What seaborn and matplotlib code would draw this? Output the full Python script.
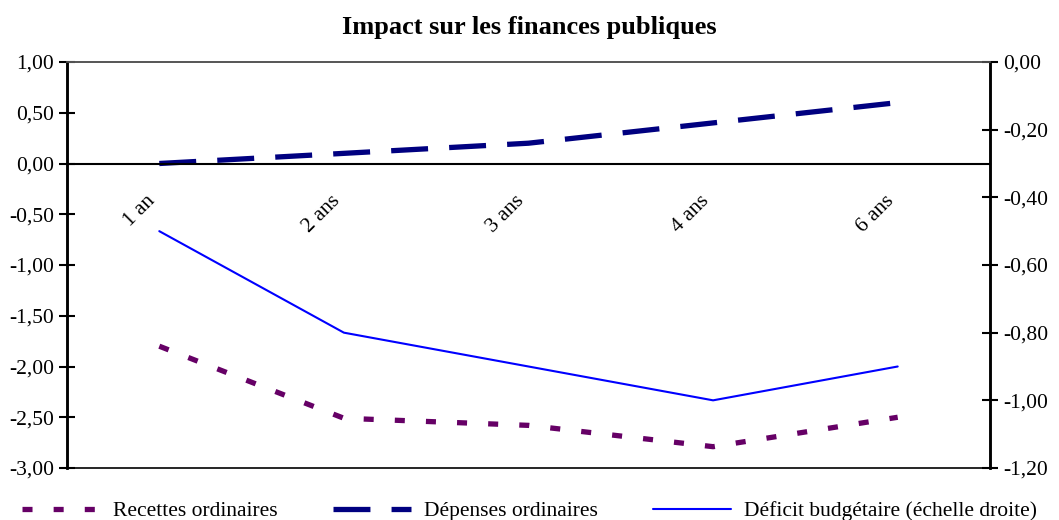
import numpy as np
import pandas as pd
import seaborn as sns
from matplotlib import pyplot as plt
from matplotlib.ticker import FuncFormatter, FixedLocator

# data
periodes = ['1 an', '2 ans', '3 ans', '4 ans', '6 ans']
recettes = [-1.80, -2.51, -2.58, -2.79, -2.50]
depenses = [0.00, 0.10, 0.20, 0.40, 0.60]
deficit = [-0.50, -0.80, -0.90, -1.00, -0.90]  # right axis

left_ticks = [1.0, 0.5, 0.0, -0.5, -1.0, -1.5, -2.0, -2.5, -3.0]
right_ticks = [0.0, -0.2, -0.4, -0.6, -0.8, -1.0, -1.2]

df = pd.DataFrame({'pos': np.arange(len(periodes)), 'periode': periodes,
                   'recettes': recettes, 'depenses': depenses,
                   'deficit': deficit})

sns.set_style('white')
plt.rcParams['font.family'] = ['Liberation Serif', 'DejaVu Serif']
plt.rcParams['font.size'] = 15.5
plt.rcParams['text.color'] = 'black'
plt.rcParams['xtick.color'] = 'black'
plt.rcParams['ytick.color'] = 'black'

fig = plt.figure(figsize=(10.59, 5.20), dpi=100)
ax = fig.add_axes([67 / 1059, 52 / 520, 923 / 1059, 406 / 520])
ax2 = ax.twinx()

sns.lineplot(data=df, x='pos', y='recettes', ax=ax, color='#660066',
             lw=3.8, linestyle=(0, (1.9, 4.0)), dash_capstyle='butt',
             label='Recettes ordinaires', legend=False)
sns.lineplot(data=df, x='pos', y='depenses', ax=ax, color='#000080',
             lw=3.8, linestyle=(0, (7.0, 4.0)), dash_capstyle='butt',
             label='Dépenses ordinaires', legend=False)
sns.lineplot(data=df, x='pos', y='deficit', ax=ax2, color='#0000FF',
             lw=1.5, label='Déficit budgétaire (échelle droite)', legend=False)

ax.set_xlim(-0.5, len(periodes) - 0.5)
ax.set_ylim(-3.0, 1.0)
ax2.set_ylim(-1.2, 0.0)

comma = lambda fmt: FuncFormatter(lambda v, p: fmt.format(v).replace('.', ','))
ax.yaxis.set_major_locator(FixedLocator(left_ticks))
ax.yaxis.set_major_formatter(comma('{:.2f}'))
ax2.yaxis.set_major_locator(FixedLocator(right_ticks))
ax2.yaxis.set_major_formatter(comma('{:.2f}'))

# category axis sits on the zero line
ax.spines['bottom'].set_position(('data', 0))
ax.spines['bottom'].set_linewidth(1.5)
ax.spines['bottom'].set_color('black')
ax.set_xticks(df['pos'])
ax.set_xticklabels(periodes, rotation=45, ha='right', va='top')
ax.set_xticks(np.arange(len(periodes) + 1) - 0.5, minor=True)
ax.tick_params(axis='x', which='major', length=0, pad=20, labelsize=15.5)
ax.tick_params(axis='x', which='minor', length=9, width=1.2,
               direction='inout', color='black')
ax.tick_params(axis='y', length=11, width=1.5, direction='inout',
               color='black', labelsize=15.5, pad=4)
ax2.tick_params(axis='y', length=11, width=1.5, direction='inout',
                color='black', labelsize=15.5, pad=4)
ax.set_xlabel('')
ax.set_ylabel('')
ax2.set_ylabel('')

for a in (ax, ax2):
    a.spines['left'].set_linewidth(1.8)
    a.spines['right'].set_linewidth(1.8)
    a.spines['left'].set_color('black')
    a.spines['right'].set_color('black')
    a.spines['top'].set_color('#555555')
    a.spines['top'].set_linewidth(1.2)
ax2.spines['bottom'].set_color('black')
ax2.spines['bottom'].set_linewidth(1.2)

fig.suptitle('Impact sur les finances publiques', y=0.97,
             fontweight='bold', fontsize=19)

handles = ax.get_lines()[:2] + ax2.get_lines()[:1]
fig.legend(handles, [h.get_label() for h in handles], loc='lower center',
           bbox_to_anchor=(0.5, -0.04), ncol=3, frameon=False, fontsize=15.5,
           handlelength=3.6, handletextpad=0.6, columnspacing=2.6)

fig.savefig('out.png', dpi=100)
